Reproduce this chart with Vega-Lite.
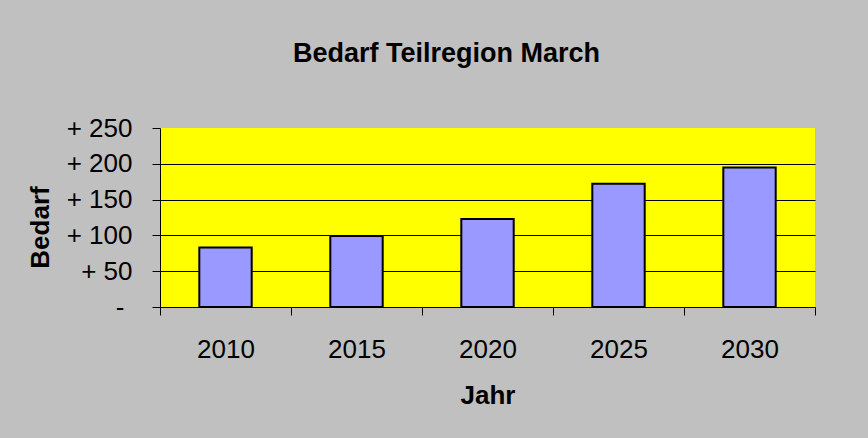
{
  "$schema": "https://vega.github.io/schema/vega-lite/v6.json",
  "width": 655,
  "height": 179,
  "autosize": {"type": "none"},
  "padding": {"left": 160, "top": 128, "right": 53, "bottom": 131},
  "background": "#c0c0c0",
  "title": {
    "text": "Bedarf Teilregion March",
    "font": "Liberation Sans",
    "fontSize": 27,
    "fontWeight": "bold",
    "color": "black",
    "anchor": "middle",
    "frame": "group",
    "dx": -41,
    "offset": 47
  },
  "data": {
    "values": [
      {"Jahr": "2010", "Bedarf": 83},
      {"Jahr": "2015", "Bedarf": 99},
      {"Jahr": "2020", "Bedarf": 123},
      {"Jahr": "2025", "Bedarf": 172},
      {"Jahr": "2030", "Bedarf": 195}
    ]
  },
  "mark": {"type": "bar", "fill": "#9999ff", "stroke": "black", "strokeWidth": 2, "width": {"band": 0.4}},
  "encoding": {
    "x": {
      "field": "Jahr",
      "type": "ordinal",
      "title": "Jahr",
      "scale": {"paddingInner": 0, "paddingOuter": 0},
      "axis": {
        "labelAngle": 0,
        "tickBand": "extent",
        "tickSize": 8,
        "tickColor": "black",
        "domainColor": "black",
        "labelFont": "Liberation Sans",
        "labelFontSize": 26,
        "labelColor": "black",
        "labelPadding": 21,
        "titleFont": "Liberation Sans",
        "titleFontSize": 26,
        "titleFontWeight": "bold",
        "titleColor": "black",
        "titlePadding": 20,
        "grid": false
      }
    },
    "y": {
      "field": "Bedarf",
      "type": "quantitative",
      "title": "Bedarf",
      "scale": {"domain": [0, 250], "nice": false},
      "axis": {
        "values": [0, 50, 100, 150, 200, 250],
        "labelExpr": "datum.value == 0 ? '-' : '+ ' + datum.value",
        "tickSize": 8,
        "tickColor": "black",
        "domainColor": "black",
        "labelFont": "Liberation Sans",
        "labelFontSize": 26,
        "labelColor": "black",
        "labelPadding": {"condition": {"test": "datum.value == 0", "value": 28}, "value": 20},
        "titleFont": "Liberation Sans",
        "titleFontSize": 26,
        "titleFontWeight": "bold",
        "titleColor": "black",
        "titlePadding": 13,
        "titleY": 99,
        "grid": true,
        "gridColor": {"condition": {"test": "datum.value >= 250", "value": "transparent"}, "value": "black"},
        "gridOpacity": 1,
        "gridWidth": 1
      }
    }
  },
  "config": {"view": {"fill": "#ffff00", "stroke": null}}
}
